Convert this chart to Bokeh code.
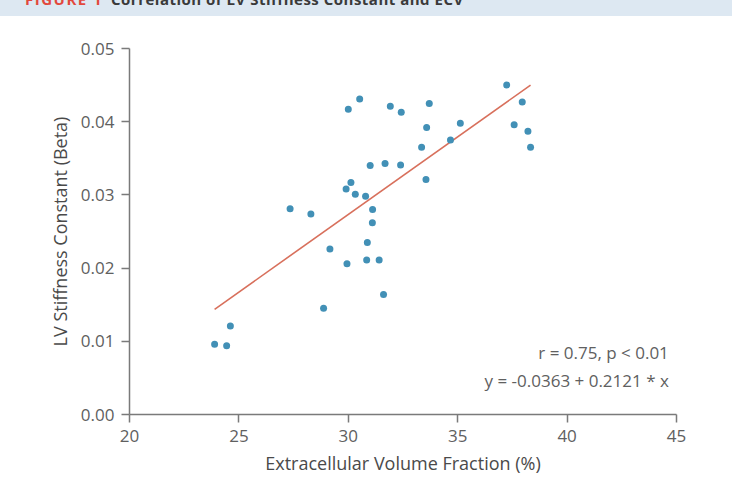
from bokeh.plotting import figure
from bokeh.models import Div, Label, Range1d, FixedTicker
from bokeh.layouts import column
from bokeh.embed import file_html
from bokeh.resources import INLINE

# Extracellular volume fraction (%) and LV stiffness constant (beta) per subject
ecv = [23.89, 24.44, 24.61, 28.87, 29.16, 29.94, 30.87, 30.84, 31.41, 31.61, 31.10,
       27.34, 28.29, 30.00, 30.52, 31.92, 32.42, 30.12, 29.90, 30.32, 30.79, 31.11,
       31.00, 31.68, 32.39,
       33.70, 33.58, 35.12, 33.35, 34.67, 33.55, 37.24, 37.95, 37.58, 38.21, 38.33]
beta = [0.0096, 0.0094, 0.0121, 0.0145, 0.0226, 0.0206, 0.0235, 0.0211, 0.0211, 0.0164, 0.0262,
        0.0281, 0.0274, 0.0417, 0.0431, 0.0421, 0.0413, 0.0317, 0.0308, 0.0301, 0.0298, 0.0280,
        0.0340, 0.0343, 0.0341,
        0.0425, 0.0392, 0.0398, 0.0365, 0.0375, 0.0321, 0.0450, 0.0427, 0.0396, 0.0387, 0.0365]

# Linear fit reported on the chart (x as a fraction)
intercept = -0.0363
slope = 0.2121
r_value = 0.75

x_ticks = [20, 25, 30, 35, 40, 45]
y_ticks = [0.00, 0.01, 0.02, 0.03, 0.04, 0.05]

FONT = "Open Sans"
TEXT = "#606060"
AXIS = "#7a7a7a"

header = Div(
    text=(
        '<div style="position:relative; top:-11px; left:25px; white-space:nowrap; '
        f'font-family:\'{FONT}\'; font-weight:bold; font-size:15px;">'
        '<span style="color:#e2483d; letter-spacing:1.5px;">FIGURE 1</span>'
        '&nbsp;&nbsp;<span style="color:#3a3a3a; letter-spacing:0.5px;">Correlation of LV Stiffness Constant and ECV</span>'
        '</div>'
    ),
    width=732, height=16,
    styles={"background-color": "#dde8f2", "overflow": "hidden", "margin": "0", "padding": "0"},
)

p = figure(width=732, height=483, output_backend="svg", toolbar_location=None,
           x_range=Range1d(20, 45), y_range=Range1d(0, 0.05),
           min_border_left=129, min_border_right=56, min_border_top=32, min_border_bottom=85)
p.outline_line_color = None
p.xgrid.visible = False
p.ygrid.visible = False
p.background_fill_color = "white"
p.border_fill_color = "white"

for ax in (p.xaxis, p.yaxis):
    ax.axis_line_color = AXIS
    ax.axis_line_width = 1.5
    ax.major_tick_line_color = AXIS
    ax.major_tick_line_width = 1.5
    ax.major_tick_in = 0
    ax.major_tick_out = 8
    ax.minor_tick_line_color = None
    ax.major_label_text_font = FONT
    ax.major_label_text_font_size = "17px"
    ax.major_label_text_color = TEXT
    ax.axis_label_text_font = FONT
    ax.axis_label_text_font_size = "18px"
    ax.axis_label_text_font_style = "normal"
    ax.axis_label_text_color = "#4a4a4a"

p.xaxis.ticker = FixedTicker(ticks=x_ticks)
p.yaxis.ticker = FixedTicker(ticks=y_ticks)
p.xaxis.major_label_overrides = {t: str(t) for t in x_ticks}
p.yaxis.major_label_overrides = {t: f"{t:.2f}" for t in y_ticks}
p.xaxis.axis_label = "Extracellular Volume Fraction (%)"
p.yaxis.axis_label = "LV Stiffness Constant (Beta)"
p.xaxis.major_label_standoff = 7
p.yaxis.major_label_standoff = 7
p.xaxis.axis_label_standoff = 6
p.yaxis.axis_label_standoff = 6

# Regression line over the observed ECV range
x0, x1 = min(ecv), max(ecv)
p.line([x0, x1], [intercept + slope * x0 / 100, intercept + slope * x1 / 100],
       line_color="#d8705c", line_width=1.6)

p.scatter(ecv, beta, size=7, fill_color="#4290b6", line_color=None)

p.add_layout(Label(x=44.65, y=0.0085, text=f"r = {r_value:.2f}, p < 0.01",
                   text_align="right", text_baseline="middle",
                   text_font=FONT, text_font_size="17px", text_color=TEXT))
p.add_layout(Label(x=44.65, y=0.0047, text=f"y = {intercept} + {slope} * x",
                   text_align="right", text_baseline="middle",
                   text_font=FONT, text_font_size="17px", text_color=TEXT))

layout = column(header, p, spacing=0)
open("out.html", "w").write(file_html(layout, INLINE))
